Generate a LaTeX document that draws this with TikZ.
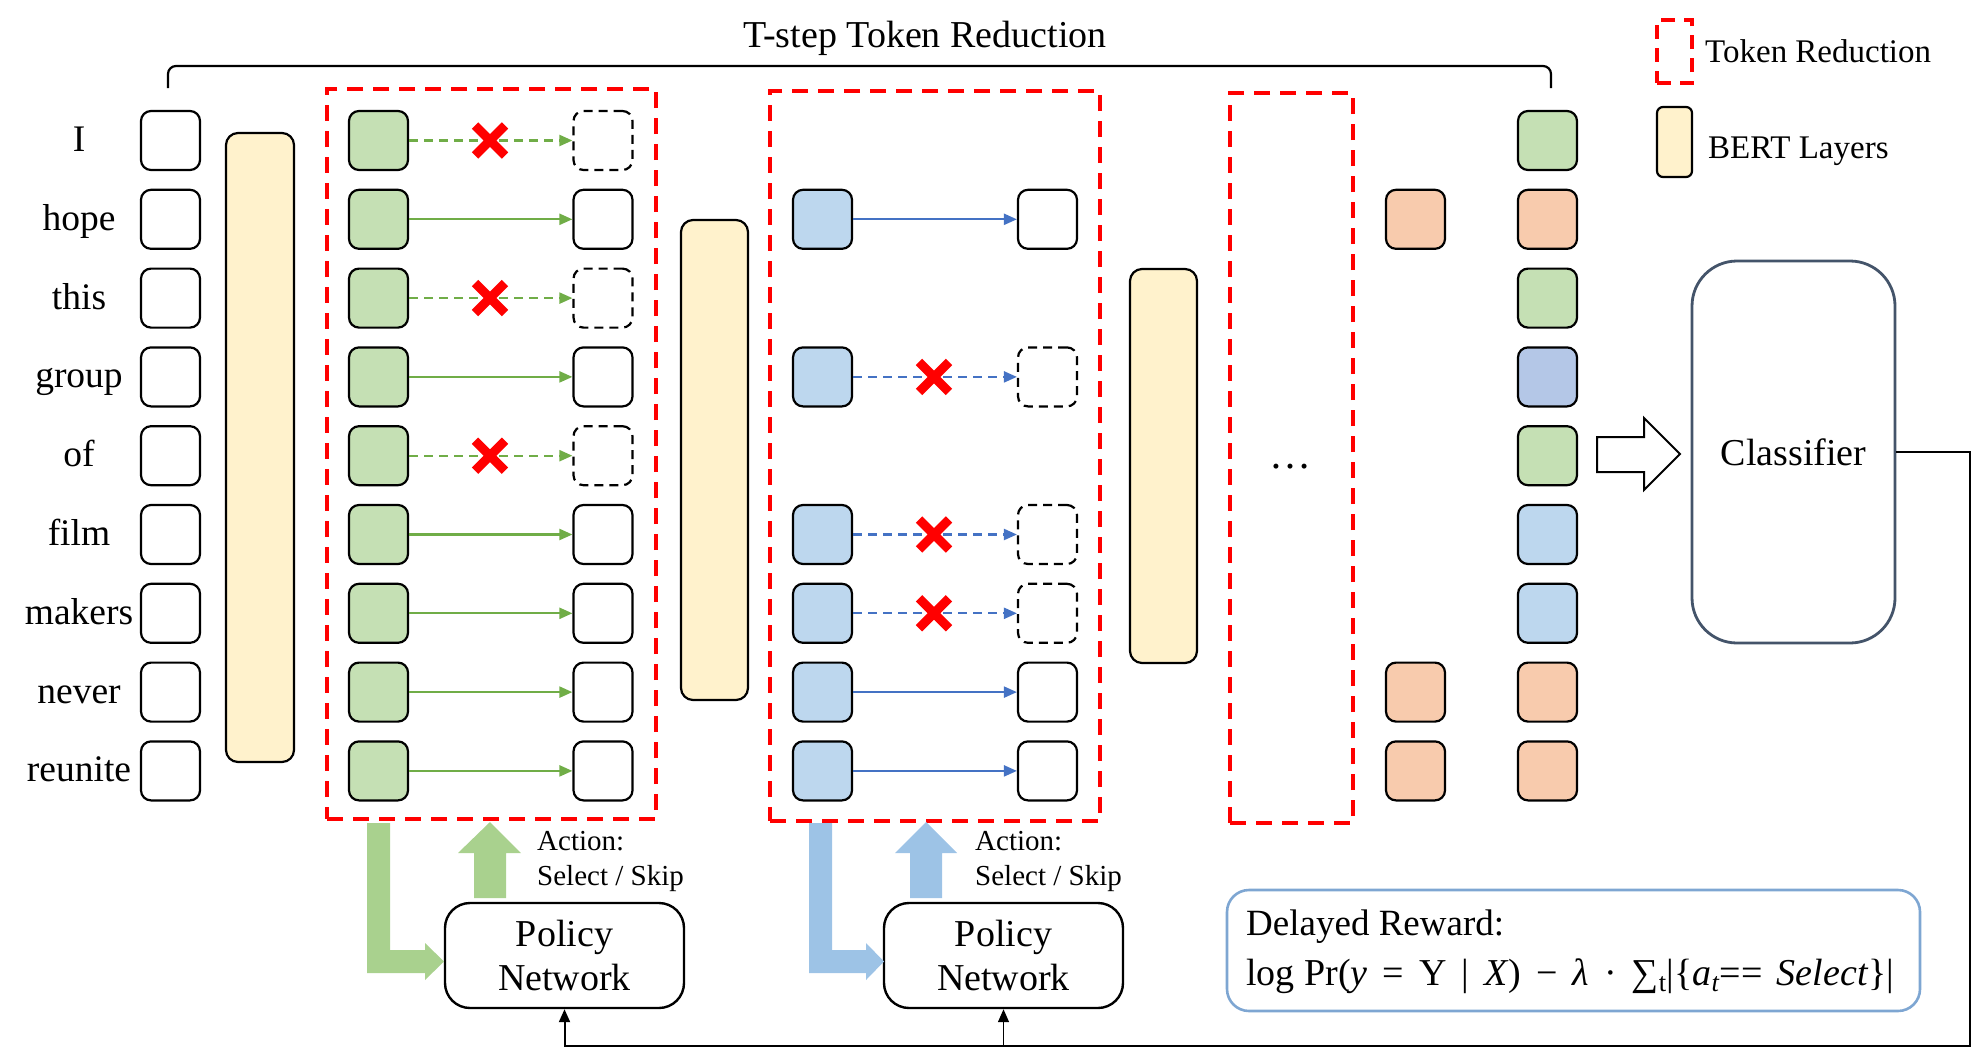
\documentclass[tikz,border=0pt]{standalone}
\usepackage{fontspec}
\setmainfont{Liberation Serif}
\newfontfamily\tnr{Liberation Serif}
\usetikzlibrary{arrows.meta}
\definecolor{tgreen}{RGB}{197,224,180}
\definecolor{tblue}{RGB}{189,215,238}
\definecolor{tblueB}{RGB}{180,199,231}
\definecolor{torange}{RGB}{248,203,173}
\definecolor{tyellow}{RGB}{255,242,204}
\definecolor{agreen}{RGB}{112,173,71}
\definecolor{ablue}{RGB}{68,114,196}
\definecolor{bgreen}{RGB}{169,209,142}
\definecolor{bblue}{RGB}{157,195,230}
\definecolor{clsborder}{RGB}{68,84,106}
\definecolor{rwborder}{RGB}{126,166,210}
\begin{document}
\begin{tikzpicture}[x=1pt,y=-1pt,
  tok/.style={draw=black, line width=2.2pt, rounded corners=10pt, minimum width=59pt, minimum height=59pt, inner sep=0pt},
  dtok/.style={tok, dash pattern=on 9pt off 6pt},
  layer/.style={draw=black, line width=2.2pt, rounded corners=12pt, fill=tyellow, inner sep=0pt},
  redbox/.style={draw=red, line width=3.5pt, dash pattern=on 16pt off 10pt, inner sep=0pt},
  word/.style={font=\tnr\fontsize{37.5}{44}\selectfont, inner sep=0pt},
  tiparrow/.style={-{Triangle[length=13pt,width=11pt]}},
  garrow/.style={tiparrow, draw=agreen, line width=2.2pt},
  barrow/.style={tiparrow, draw=ablue, line width=2.2pt},
  skip/.style={dash pattern=on 9pt off 6pt},
  redx/.style={draw=red, line width=9pt},
  pbox/.style={draw=black, line width=2.4pt, rounded corners=25pt, minimum width=239pt, minimum height=105pt, align=center, font=\tnr\fontsize{38}{44}\selectfont, inner sep=0pt},
  small/.style={font=\tnr\fontsize{29}{35}\selectfont, inner sep=0pt, anchor=base west},
  legend/.style={font=\tnr\fontsize{33}{38}\selectfont, inner sep=0pt, anchor=base west},
  fbline/.style={draw=black, line width=2pt, -{Triangle[length=13pt,width=11pt]}},
  fbthin/.style={draw=black, line width=1.4pt, -{Triangle[length=13pt,width=11pt]}}
]
\useasboundingbox (0,0) rectangle (1972,1052);

% top bracket
\coordinate (brL) at (168,88);
\coordinate (brR) at (1551,88);
\draw[line width=2.2pt, rounded corners=8pt] (brL) -- (168,66) -- (1551,66) -- (brR);
\node[font=\tnr\fontsize{38}{44}\selectfont, inner sep=0pt, anchor=base] (title) at (925,47) {T-step Token Reduction};

% red dashed token reduction boxes
\node[redbox, minimum width=329pt, minimum height=730pt] (rb1) at (491.5,454) {};
\node[redbox, minimum width=330pt, minimum height=730pt] (rb2) at (935,456) {};
\node[redbox, minimum width=123pt, minimum height=730pt] (rb3) at (1291.5,458) {};

% BERT layers
\node[layer, minimum width=68pt, minimum height=629pt] (L1) at (260,447.5) {};
\node[layer, minimum width=67pt, minimum height=480pt] (L2) at (714.5,460) {};
\node[layer, minimum width=67pt, minimum height=394pt] (L3) at (1163.5,466) {};

% words, input tokens, first layer outputs
\foreach \w [count=\i from 0] in {I,hope,this,group,of,film,makers,never,reunite} {
  \pgfmathsetmacro\yy{140.5+78.8*\i}
  \node[word, anchor=base] (w\i) at (79,\yy+11) {\w};
  \node[tok] (in\i) at (170.5,\yy) {};
  \node[tok, fill=tgreen] (g\i) at (378.5,\yy) {};
}

% step 1 selected
\foreach \i in {1,3,5,6,7,8} {
  \pgfmathsetmacro\yy{140.5+78.8*\i}
  \node[tok] (ta\i) at (603,\yy) {};
  \draw[garrow] (g\i.east) -- (ta\i.west);
}
% step 1 skipped
\foreach \i in {0,2,4} {
  \pgfmathsetmacro\yy{140.5+78.8*\i}
  \node[dtok] (ta\i) at (603,\yy) {};
  \draw[garrow, skip] (g\i.east) -- (ta\i.west);
  \draw[redx] (475,\yy-15) -- (505,\yy+15) (475,\yy+15) -- (505,\yy-15);
}

% step 2
\foreach \i in {1,3,5,6,7,8} {
  \pgfmathsetmacro\yy{140.5+78.8*\i}
  \node[tok, fill=tblue] (b\i) at (822.5,\yy) {};
}
\foreach \i in {1,7,8} {
  \pgfmathsetmacro\yy{140.5+78.8*\i}
  \node[tok] (tb\i) at (1047.5,\yy) {};
  \draw[barrow] (b\i.east) -- (tb\i.west);
}
\foreach \i in {3,5,6} {
  \pgfmathsetmacro\yy{140.5+78.8*\i}
  \node[dtok] (tb\i) at (1047.5,\yy) {};
  \draw[barrow, skip] (b\i.east) -- (tb\i.west);
  \draw[redx] (919,\yy-15) -- (949,\yy+15) (919,\yy+15) -- (949,\yy-15);
}

% dots
\node[font=\tnr\fontsize{42}{44}\selectfont, inner sep=0pt, anchor=base] (dots) at (1290,468) {…};

% orange column
\foreach \i in {1,7,8} {
  \pgfmathsetmacro\yy{140.5+78.8*\i}
  \node[tok, fill=torange] (o\i) at (1415.5,\yy) {};
}

% final column
\foreach \c [count=\i from 0] in {tgreen,torange,tgreen,tblueB,tgreen,tblue,tblue,torange,torange} {
  \pgfmathsetmacro\yy{140.5+78.8*\i}
  \node[tok, fill=\c] (f\i) at (1547.5,\yy) {};
}

% hollow arrow to classifier
\draw[line width=2pt, fill=white] (1597,437) -- (1644,437) -- (1644,418) -- (1680,454) -- (1644,490) -- (1644,472) -- (1597,472) -- cycle;

% classifier
\node[draw=clsborder, line width=2.8pt, rounded corners=45pt, minimum width=203pt, minimum height=382pt, inner sep=0pt, font=\tnr\fontsize{38}{44}\selectfont] (cls) at (1793.5,452) {Classifier};

% policy networks
\node[pbox] (p1) at (564.5,955.5) {Policy\\Network};
\node[pbox] (p2) at (1003.5,955.5) {Policy\\Network};

% thick green arrows
\fill[bgreen] (367,823) -- (390,823) -- (390,950) -- (425,950) -- (425,943) -- (444,961.5) -- (425,980) -- (425,973) -- (367,973) -- cycle;
\fill[bgreen] (474,898) -- (506,898) -- (506,853) -- (521,853) -- (490,822) -- (458,853) -- (474,853) -- cycle;
% thick blue arrows
\fill[bblue] (809,823) -- (832,823) -- (832,950) -- (866,950) -- (866,943) -- (884,961.5) -- (866,980) -- (866,973) -- (809,973) -- cycle;
\fill[bblue] (910,898) -- (942,898) -- (942,853) -- (957,853) -- (926,822) -- (895,853) -- (910,853) -- cycle;

% action labels
\node[small] (act1) at (537,850) {Action:};
\node[small] (sel1) at (537,885) {Select / Skip};
\node[small] (act2) at (975,850) {Action:};
\node[small] (sel2) at (975,885) {Select / Skip};

% delayed reward
\node[draw=rwborder, line width=2.6pt, rounded corners=22pt, minimum width=693pt, minimum height=121pt, inner sep=0pt] (rw) at (1573.5,950.5) {};
\node[font=\tnr\fontsize{37}{44}\selectfont, inner sep=0pt, anchor=base west] (rwt) at (1246,935) {Delayed Reward:};
\node[font=\tnr\fontsize{38}{44}\selectfont, inner sep=0pt, anchor=base west] (rwf) at (1246,985) {log Pr(\textit{y}\hspace{15pt}=\hspace{15pt}Y\hspace{15pt}|\hspace{15pt}\textit{X})\hspace{15pt}−\hspace{15pt}\textit{λ}\hspace{15pt}·\hspace{15pt}∑\textsubscript{t}|\{\textit{a}\textsubscript{\textit{t}}==\hspace{14pt}\textit{Select}\}|};

% feedback
\coordinate (fbA) at (1970,452);
\coordinate (fbB) at (1970,1046);
\draw[fbline] (cls.east) -- (fbA) -- (fbB) -- (p1.south |- fbB) -- (p1.south);
\draw[fbthin] (p2.south |- fbB) -- (p2.south);

% legend
\node[draw=red, line width=3.5pt, dash pattern=on 14pt off 9pt, minimum width=35pt, minimum height=63pt, inner sep=0pt] (lgR) at (1674.5,51.5) {};
\node[legend] (lgRt) at (1705,62) {Token Reduction};
\node[draw=black, line width=2.2pt, rounded corners=6pt, fill=tyellow, minimum width=35pt, minimum height=70pt, inner sep=0pt] (lgY) at (1674.5,142) {};
\node[legend] (lgYt) at (1708,158) {BERT Layers};
\end{tikzpicture}
\end{document}
